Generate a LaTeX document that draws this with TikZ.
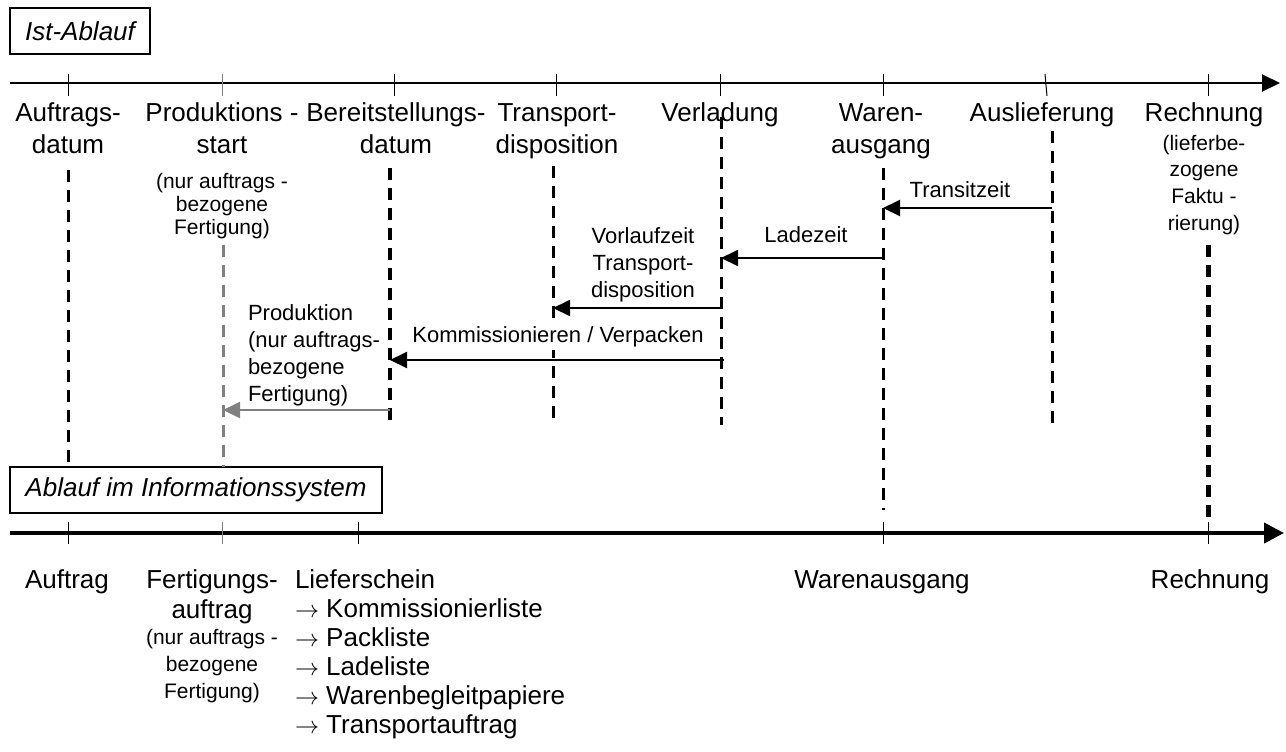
\documentclass[tikz,border=0pt]{standalone}
\usepackage{fontspec}
\setmainfont{Liberation Sans}
\usetikzlibrary{arrows.meta}

\definecolor{midgray}{RGB}{128,128,128}

\begin{document}
\begin{tikzpicture}[x=0.5pt,y=-0.5pt,
  every node/.style={inner sep=0pt, outer sep=0pt},
  % multi-line nodes are placed by the baseline of their last line
  lbl/.style={font=\fontsize{13}{16}\selectfont, align=center, anchor=base},
  note/.style={font=\fontsize{10.5}{11.5}\selectfont, align=center, anchor=base},
  span/.style={font=\fontsize{11}{13.5}\selectfont, align=center, anchor=base},
  axisline/.style={line width=1pt, -{Triangle[length=9pt,width=8.5pt]}},
  tickmark/.style={line width=0.5pt},
  guide/.style={line width=1.5pt, dash pattern=on 6pt off 4pt},
  dur/.style={line width=1pt, -{Triangle[length=8.5pt,width=8pt]}},
  titlebox/.style={draw, line width=0.6pt, font=\fontsize{13}{16}\selectfont\itshape,
    minimum height=23pt, inner xsep=3pt}
]
\useasboundingbox (0,0) rectangle (1286,751);

% ---------- section titles ----------
\node[titlebox, minimum width=70pt] (ist) at (80,31) {Ist-Ablauf};
\node[titlebox, minimum width=186pt] (infosys) at (196,490) {Ablauf im Informationssystem};

% ---------- upper time axis ----------
\coordinate (ta0) at (10,83);
\coordinate (ta1) at (1280,83);
\draw[axisline] (ta0) -- (ta1);

\coordinate (tk1a) at (68,74);   \coordinate (tk1b) at (68,96);
\coordinate (tk2a) at (222,74);  \coordinate (tk2b) at (222,96);
\coordinate (tk3a) at (394,74);  \coordinate (tk3b) at (394,96);
\coordinate (tk4a) at (556,74);  \coordinate (tk4b) at (556,96);
\coordinate (tk5a) at (720,74);  \coordinate (tk5b) at (720,96);
\coordinate (tk6a) at (883,74);  \coordinate (tk6b) at (883,96);
\coordinate (tk7a) at (1045,74); \coordinate (tk7b) at (1047,96);
\coordinate (tk8a) at (1208,74); \coordinate (tk8b) at (1208,96);
\draw[tickmark] (tk1a) -- (tk1b);
\draw[tickmark, midgray] (tk2a) -- (tk2b);
\draw[tickmark] (tk3a) -- (tk3b);
\draw[tickmark] (tk4a) -- (tk4b);
\draw[tickmark] (tk5a) -- (tk5b);
\draw[tickmark] (tk6a) -- (tk6b);
\draw[tickmark] (tk7a) -- (tk7b);
\draw[tickmark] (tk8a) -- (tk8b);

% ---------- event labels ----------
\node[lbl] (auftragsdatum) at (68,153) {Auftrags-\\datum};
\node[lbl] (prodstart) at (222,153) {Produktions -\\start};
\node[note] (prodstartnote) at (222,234) {(nur auftrags -\\bezogene\\Fertigung)};
\node[lbl] (bereit) at (396,153) {Bereitstellungs-\\datum};
\node[lbl] (transpdispo) at (557,153) {Transport-\\disposition};
\node[lbl] (verladung) at (720,121) {Verladung};
\node[lbl] (warenausg) at (881,153) {Waren-\\ausgang};
\node[lbl] (auslief) at (1042,121) {Auslieferung};
\node[lbl] (rechnung) at (1204,121) {Rechnung};
\node[note, font=\fontsize{10.5}{13.3}\selectfont] (rechnungnote) at (1204,230)
  {(lieferbe-\\zogene\\Faktu -\\rierung)};

% ---------- dashed guide lines ----------
\coordinate (g1a) at (68,170);   \coordinate (g1b) at (68,467);
\coordinate (g2a) at (223,245);  \coordinate (g2b) at (223,467);
\coordinate (g3a) at (390,168);  \coordinate (g3b) at (390,425);
\coordinate (g4a) at (553,166);  \coordinate (g4b) at (553,425);
\coordinate (g5a) at (721,117);  \coordinate (g5b) at (721,425);
\coordinate (g6a) at (883,168);  \coordinate (g6b) at (883,510);
\coordinate (g7a) at (1052,131); \coordinate (g7b) at (1052,425);
\coordinate (g8a) at (1208,245); \coordinate (g8b) at (1208,520);
\draw[guide] (g1a) -- (g1b);
\draw[guide, midgray] (g2a) -- (g2b);
\draw[guide, line width=2pt] (g3a) -- (g3b);
\draw[guide] (g4a) -- (g4b);
\draw[guide] (g5a) -- (g5b);
\draw[guide] (g6a) -- (g6b);
\draw[guide] (g7a) -- (g7b);
\draw[guide, line width=2.5pt] (g8a) -- (g8b);

% ---------- durations ----------
\coordinate (d1a) at (1052,208); \coordinate (d1b) at (883,208);
\coordinate (d2a) at (883,258);  \coordinate (d2b) at (721,258);
\coordinate (d3a) at (721,308);  \coordinate (d3b) at (553,308);
\coordinate (d4a) at (724,360);  \coordinate (d4b) at (390,360);
\coordinate (d5a) at (390,410);  \coordinate (d5b) at (223,410);
\draw[dur] (d1a) -- (d1b);
\draw[dur] (d2a) -- (d2b);
\draw[dur] (d3a) -- (d3b);
\draw[dur] (d4a) -- (d4b);
\draw[dur, midgray] (d5a) -- (d5b);

\node[span] (transit) at (960,197) {Transitzeit};
\node[span] (ladezeit) at (806,242) {Ladezeit};
\node[span] (vorlauf) at (643,297) {Vorlaufzeit\\Transport-\\disposition};
\node[span, fill=white, inner xsep=1pt, inner ysep=1.5pt] (kommiss) at (558,342)
  {Kommissionieren / Verpacken};
\node[span, align=left, anchor=base west] (produktion) at (248,401)
  {Produktion\\(nur auftrags-\\bezogene\\Fertigung)};

% ---------- lower time axis ----------
\coordinate (ba0) at (10,533);
\coordinate (ba1) at (1284,533);
\draw[line width=2pt, -{Triangle[length=10pt,width=10pt]}] (ba0) -- (ba1);

\coordinate (bk1a) at (68,522);   \coordinate (bk1b) at (68,544);
\coordinate (bk2a) at (222,522);  \coordinate (bk2b) at (222,544);
\coordinate (bk3a) at (358,522);  \coordinate (bk3b) at (358,544);
\coordinate (bk4a) at (883,522);  \coordinate (bk4b) at (883,544);
\coordinate (bk5a) at (1208,522); \coordinate (bk5b) at (1208,544);
\draw[tickmark] (bk1a) -- (bk1b);
\draw[tickmark, midgray] (bk2a) -- (bk2b);
\draw[tickmark] (bk3a) -- (bk3b);
\draw[tickmark] (bk4a) -- (bk4b);
\draw[tickmark] (bk5a) -- (bk5b);

% ---------- documents in the information system ----------
\node[lbl] (auftrag) at (67,588) {Auftrag};
\node[lbl, font=\fontsize{13}{15}\selectfont] (fertauftrag) at (212,618) {Fertigungs-\\auftrag};
\node[note, font=\fontsize{10.5}{13.5}\selectfont] (fertnote) at (212,698)
  {(nur auftrags -\\bezogene\\Fertigung)};
\node[lbl, align=left, anchor=base west, font=\fontsize{13}{14.5}\selectfont] (lieferschein) at (295,733)
  {Lieferschein\\
   $\rightarrow$ Kommissionierliste\\
   $\rightarrow$ Packliste\\
   $\rightarrow$ Ladeliste\\
   $\rightarrow$ Warenbegleitpapiere\\
   $\rightarrow$ Transportauftrag};
\node[lbl] (wabottom) at (882,588) {Warenausgang};
\node[lbl] (rebottom) at (1210,588) {Rechnung};
\end{tikzpicture}
\end{document}
